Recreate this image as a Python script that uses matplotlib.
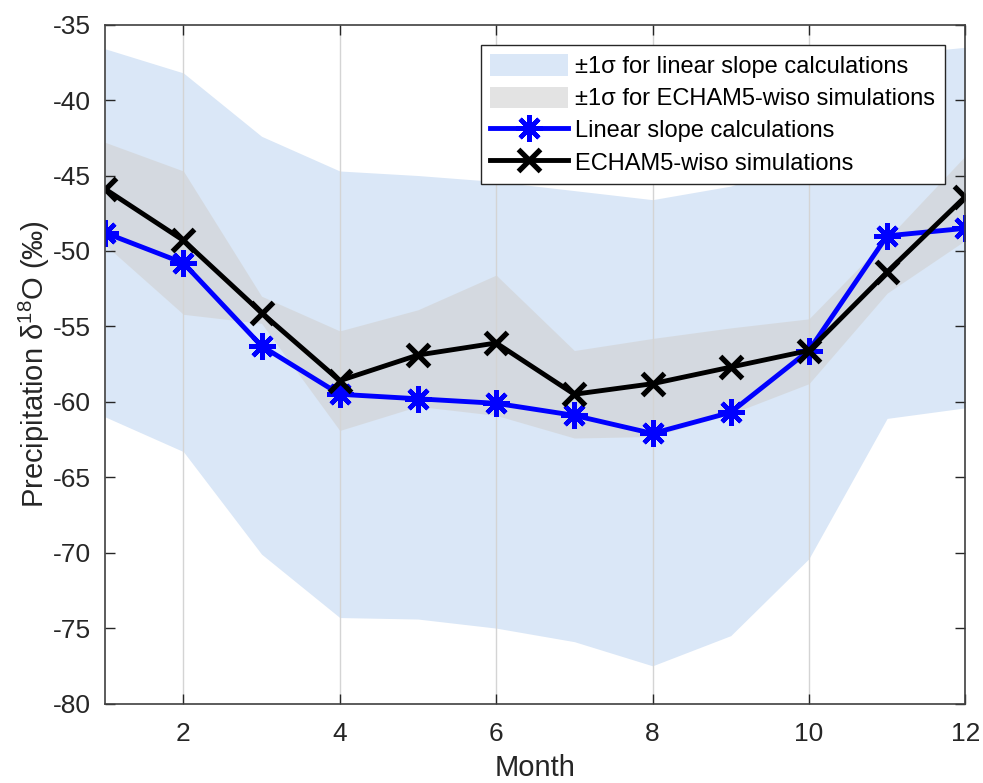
import matplotlib

matplotlib.use('Agg')
import matplotlib.pyplot as plt
import numpy as np

plt.rcParams['font.family'] = ['Liberation Sans', 'DejaVu Sans']
plt.rcParams['mathtext.fontset'] = 'custom'
plt.rcParams['mathtext.rm'] = 'Liberation Sans'
plt.rcParams['mathtext.it'] = 'Liberation Sans:italic'
plt.rcParams['axes.unicode_minus'] = False

months = np.arange(1, 13)

# Linear slope calculations (mean, +/-1 sigma)
linear_mean = [-48.8, -50.8, -56.3, -59.5, -59.8, -60.1, -60.9, -62.1, -60.7, -56.6, -49.0, -48.5]
linear_upper = [-36.6, -38.2, -42.4, -44.7, -45.0, -45.4, -46.0, -46.6, -45.7, -44.0, -37.0, -36.5]
linear_lower = [-61.0, -63.3, -70.1, -74.3, -74.4, -75.0, -75.9, -77.5, -75.5, -70.4, -61.1, -60.4]

# ECHAM5-wiso simulations (mean, +/-1 sigma)
echam_mean = [-45.9, -49.3, -54.1, -58.6, -56.9, -56.1, -59.5, -58.8, -57.7, -56.6, -51.4, -46.4]
echam_upper = [-42.8, -44.7, -53.0, -55.3, -53.9, -51.6, -56.6, -55.8, -55.1, -54.5, -49.2, -43.7]
echam_lower = [-49.6, -54.2, -54.8, -61.9, -60.3, -60.9, -62.4, -62.3, -60.8, -58.8, -52.8, -49.3]

fig = plt.figure(figsize=(9.83, 7.83), dpi=100)
ax = fig.add_axes([0.107, 0.1015, 0.875, 0.867])

ax.fill_between(months, linear_lower, linear_upper, color='#dae7f7', linewidth=0,
                label='±1σ for linear slope calculations')
ax.fill_between(months, echam_lower, echam_upper, color=(0.82, 0.82, 0.82), alpha=0.6,
                linewidth=0, label='±1σ for ECHAM5-wiso simulations')
ax.plot(months, linear_mean, color='#0000ff', lw=3.5, marker=(8, 2, 0), ms=19, mew=3.2,
        label='Linear slope calculations')
ax.plot(months, echam_mean, color='black', lw=3.5, marker='x', ms=16, mew=3.8,
        label='ECHAM5-wiso simulations')

ax.set_xlim(1, 12)
ax.set_ylim(-80, -35)
ax.set_xticks([2, 4, 6, 8, 10, 12])
ax.set_yticks(np.arange(-80, -34, 5))
ax.xaxis.grid(True, color='#d4d4d4', lw=1)

ax.tick_params(direction='in', top=True, right=True, length=7, width=1,
               labelsize=19, colors='#262626')
ax.tick_params(axis='x', pad=13)
ax.tick_params(axis='y', pad=10)
for sp in ax.spines.values():
    sp.set_color('#404040')
    sp.set_linewidth(1.2)

ax.set_xlabel('Month', fontsize=21, color='#262626', labelpad=6)
ax.set_ylabel('Precipitation δ$^{18}$O (‰)', fontsize=21, color='#262626', labelpad=1)

leg = ax.legend(loc='upper right', bbox_to_anchor=(0.976, 0.970), borderaxespad=0,
                fontsize=17, frameon=True, fancybox=False, edgecolor='#262626',
                framealpha=1, handlelength=3.3, handleheight=1.0, handletextpad=0.3,
                borderpad=0.4, labelspacing=0.36)
leg.get_frame().set_linewidth(1)

fig.savefig('out.png', dpi=100)
